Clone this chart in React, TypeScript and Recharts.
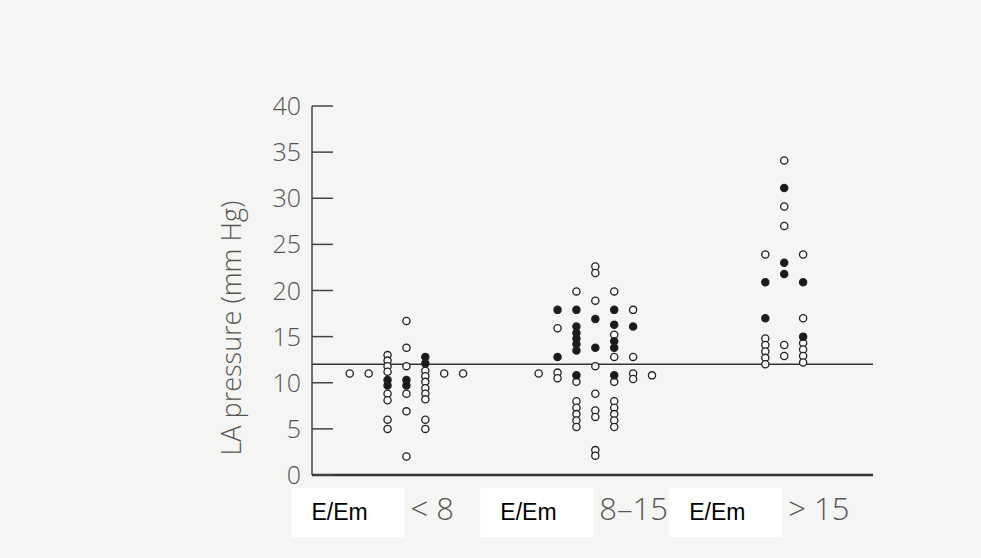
import React from 'react'
import { ScatterChart, Scatter, XAxis, YAxis, ReferenceLine } from 'recharts'

// E/Em groups and where each group sits on the x scale
const groupNames = ['< 8', '8–15', '> 15']
const groupCenters = [5, 15, 25]
const yTicks = [0, 5, 10, 15, 20, 25, 30, 35, 40]

// LA pressure (mm Hg), one inner array per dot column, left to right
const lowOpen = [
  [11],
  [11],
  [13, 12.4, 11.8, 11.2, 8.8, 8.1, 6, 5],
  [16.7, 13.8, 11.8, 8.8, 6.9, 2],
  [11.3, 10.7, 10.1, 9.4, 8.8, 8.2, 6, 5],
  [11],
  [11],
]
const lowFilled = [[], [], [10.3, 9.7], [10.3, 9.7], [12.8, 12.1], [], []]

const midOpen = [
  [11],
  [15.9, 11.1, 10.5],
  [19.9, 10.1, 8, 7.3, 6.6, 5.9, 5.2],
  [22.6, 21.9, 18.9, 11.8, 8.8, 7, 6.3, 2.7, 2.1],
  [19.9, 15.2, 12.8, 10.1, 8, 7.3, 6.6, 5.9, 5.2],
  [17.9, 12.8, 11, 10.4],
  [10.8],
]
const midFilled = [
  [],
  [17.9, 12.8],
  [17.9, 16.1, 15.4, 14.8, 14.2, 13.5, 10.8],
  [16.9, 13.8],
  [17.9, 16.3, 14.5, 13.8, 10.8],
  [16.1],
  [],
]

const highOpen = [
  [23.9, 14.8, 14.1, 13.4, 12.7, 12],
  [34.1, 29.1, 27, 14.1, 12.9],
  [23.9, 17, 14.3, 13.6, 12.9, 12.2],
]
const highFilled = [
  [20.9, 17],
  [31.1, 23, 21.8],
  [20.9, 15],
]

const cutoff = 12

function toPoints(groups: number[][][]) {
  const pts: { x: number; y: number }[] = []
  groups.forEach((cols, g) => {
    const half = (cols.length - 1) / 2
    cols.forEach((vals, i) => {
      vals.forEach(v => pts.push({ x: groupCenters[g] + i - half, y: v }))
    })
  })
  return pts
}

const openPoints = toPoints([lowOpen, midOpen, highOpen])
const filledPoints = toPoints([lowFilled, midFilled, highFilled])

const scanFont = '"Open Sans", "DejaVu Sans", sans-serif'

function Dot(props: any) {
  const { cx, cy, fill } = props
  return <circle cx={cx} cy={cy} r={3.6} fill={fill} stroke="#222" strokeWidth={1.3} />
}

function YTick({ x, y, payload }: any) {
  return (
    <g>
      <line x1={x} x2={x + 21} y1={y} y2={y} stroke="#444" strokeWidth={1.5} />
      <text x={x - 11} y={y} dy={9} textAnchor="end" fontSize={25} fontWeight={300} fill="#555" fontFamily={scanFont}>
        {payload.value}
      </text>
    </g>
  )
}

function XTick({ x, y, index }: any) {
  return (
    <g>
      <rect x={x - 115} y={y + 13} width={113} height={49} fill="#fff" />
      <text x={x - 95} y={y + 45} fontSize={23} fill="#000" fontFamily='"Liberation Sans", Arial, sans-serif'>
        E/Em
      </text>
      <text x={x + 4} y={y + 45} fontSize={31} fontWeight={300} fill="#555" fontFamily={scanFont}>
        {groupNames[index]}
      </text>
    </g>
  )
}

function YLabel({ viewBox }: any) {
  const cx = viewBox.x + viewBox.width - 80
  const cy = viewBox.y + viewBox.height / 2 + 165
  return (
    <text
      x={cx}
      y={cy}
      transform={`rotate(-90 ${cx} ${cy})`}
      textAnchor="start"
      dy={9}
      fontSize={27}
      fontWeight={300}
      fill="#555"
      fontFamily={scanFont}
    >
      LA pressure (mm Hg)
    </text>
  )
}

export default function App() {
  return (
    <div style={{ position: 'absolute', left: 0, top: 0, width: 981, height: 558, background: '#f5f5f4' }}>
      <ScatterChart width={981} height={558} margin={{ top: 106, right: 108, bottom: 23, left: 0 }}>
        <XAxis
          type="number"
          dataKey="x"
          domain={[0, 29.7]}
          ticks={groupCenters}
          tick={<XTick />}
          tickLine={false}
          tickSize={0}
          tickMargin={0}
          height={60}
          axisLine={{ stroke: '#333', strokeWidth: 2.4 }}
        />
        <YAxis
          type="number"
          dataKey="y"
          domain={[0, 40]}
          ticks={yTicks}
          tick={<YTick />}
          tickLine={false}
          tickSize={0}
          tickMargin={0}
          width={312}
          axisLine={{ stroke: '#444', strokeWidth: 1.5 }}
          label={{ value: 'LA pressure (mm Hg)', content: <YLabel /> }}
        />
        <ReferenceLine y={cutoff} stroke="#333" strokeWidth={1.4} />
        <Scatter data={openPoints} fill="#fafafa" shape={<Dot />} isAnimationActive={false} />
        <Scatter data={filledPoints} fill="#1a1a1a" shape={<Dot />} isAnimationActive={false} />
      </ScatterChart>
    </div>
  )
}
